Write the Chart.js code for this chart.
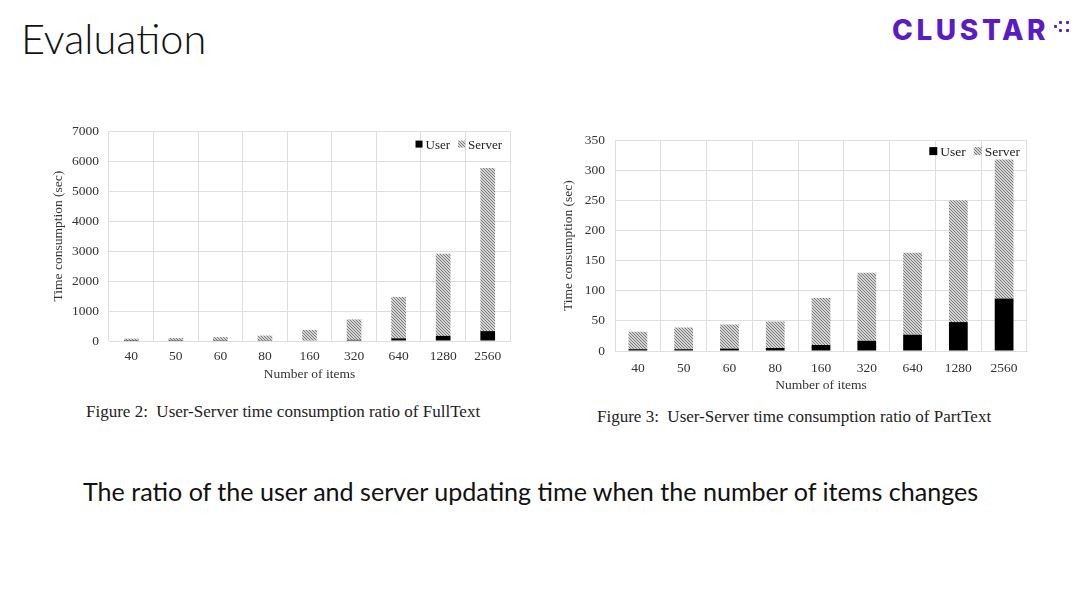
<!DOCTYPE html>
<html>
<head>
<meta charset="utf-8">
<script src="https://cdn.jsdelivr.net/npm/chart.js@4.4.1/dist/chart.umd.min.js"></script>
<style>
  html, body { margin: 0; padding: 0; background: #fff; }
  body { width: 1080px; height: 608px; position: relative; overflow: hidden; font-family: Lato, 'Noto Sans', sans-serif; }
  .title { position: absolute; left: 21px; top: 13px; font-size: 41.5px; font-weight: 300; color: #111; }
  .logo { position: absolute; left: 892px; top: 13px; font-family: Inter, sans-serif; font-weight: 800; font-size: 28px; letter-spacing: 3.6px; color: #5a1dc5; }
  .dots { position: absolute; left: 1052px; top: 20px; width: 22px; height: 16px; }
  .dots i { position: absolute; width: 3px; height: 3px; background: #5a1dc5; border-radius: 1px; }
  .wrap { position: absolute; }
  .caption { position: absolute; font-family: 'Liberation Serif', 'DejaVu Serif', serif; font-size: 17px; color: #222; white-space: nowrap; }
  .note { position: absolute; left: 83px; top: 476px; font-size: 25.1px; color: #111; white-space: nowrap; }
</style>
</head>
<body>
<div class="title">Evaluation</div>
<div class="logo">CLUSTAR</div>
<div class="dots"><i style="left:2px;top:5px"></i><i style="left:7px;top:1px"></i><i style="left:7px;top:9px"></i><i style="left:14px;top:1px"></i><i style="left:14px;top:9px"></i></div>

<div class="wrap" style="left:50px;top:113px;width:466px;height:270px"><canvas id="fullText"></canvas></div>
<div class="wrap" style="left:560px;top:122px;width:475px;height:272px"><canvas id="partText"></canvas></div>

<div class="caption" style="left:86px;top:402px">Figure 2:&nbsp; User-Server time consumption ratio of FullText</div>
<div class="caption" style="left:597px;top:407px">Figure 3:&nbsp; User-Server time consumption ratio of PartText</div>

<div class="note">The ratio of the user and server updating time when the number of items changes</div>

<script>
const items = ['40', '50', '60', '80', '160', '320', '640', '1280', '2560'];

// FullText (sec)
const fullUser = [5, 6, 8, 10, 20, 40, 90, 170, 330];
const fullTotal = [80, 100, 130, 180, 370, 720, 1470, 2910, 5770];
const fullServer = fullTotal.map((t, i) => t - fullUser[i]);

// PartText (sec)
const partUser = [3, 3, 4, 5, 10, 17, 27, 48, 87];
const partTotal = [32, 39, 44, 49, 88, 130, 163, 250, 318];
const partServer = partTotal.map((t, i) => t - partUser[i]);

const fullTicks = [0, 1000, 2000, 3000, 4000, 5000, 6000, 7000];
const partTicks = [0, 50, 100, 150, 200, 250, 300, 350];

const makeHatch = () => {
    const c = document.createElement('canvas');
    c.width = 3; c.height = 3;
    const g = c.getContext('2d');
    g.fillStyle = '#d4d4d4';
    g.fillRect(0, 0, 3, 3);
    g.fillStyle = '#7a7a7a';
    // diagonal dots: top-left to bottom-right
    g.fillRect(0, 0, 1, 1);
    g.fillRect(1, 1, 1, 1);
    g.fillRect(2, 2, 1, 1);
    return g.createPattern(c, 'repeat');
};
const hatch = makeHatch();

const serif = "'Liberation Serif', 'DejaVu Serif', serif";
const gridColor = '#dedede';

// legend drawn inside the plot, top-right
const cornerLegend = {
    id: 'cornerLegend',
    afterDraw(chart, args, o) {
        const { ctx, chartArea } = chart;
        const ds = chart.data.datasets;
        ctx.save();
        ctx.font = `${o.size}px ${serif}`;
        ctx.textBaseline = 'middle';
        const gap = 3, spacing = 8;
        const widths = ds.map(d => o.box + gap + ctx.measureText(d.label).width);
        const total = widths.reduce((a, b) => a + b, 0) + spacing * (ds.length - 1);
        let x = chartArea.right - o.inset - total;
        const y = chartArea.top + o.dy;
        ds.forEach((d, i) => {
            ctx.fillStyle = d.backgroundColor;
            ctx.fillRect(x, y - o.box / 2, o.box, o.box);
            ctx.fillStyle = '#222';
            ctx.fillText(d.label, x + o.box + gap, y + 1);
            x += widths[i] + spacing;
        });
        ctx.restore();
    }
};

const buildChart = (id, user, server, ticks, opts) => {
    new Chart(document.getElementById(id), {
        type: 'bar',
        data: {
            labels: items,
            datasets: [
                { label: 'User', data: user, backgroundColor: '#000', barPercentage: opts.bar, categoryPercentage: 1 },
                { label: 'Server', data: server, backgroundColor: hatch, barPercentage: opts.bar, categoryPercentage: 1 }
            ]
        },
        plugins: [cornerLegend],
        options: {
            responsive: true,
            maintainAspectRatio: false,
            animation: false,
            layout: { padding: { top: opts.top, right: opts.right, left: 0, bottom: 0 } },
            plugins: {
                legend: { display: false },
                tooltip: { enabled: false },
                cornerLegend: opts.legend
            },
            scales: {
                x: {
                    stacked: true,
                    grid: { color: gridColor, offset: true, drawTicks: false },
                    border: { color: gridColor },
                    ticks: { color: '#333', padding: opts.tickPad, font: { family: serif, size: 13.5 } },
                    title: { display: true, text: 'Number of items', color: '#333', padding: { top: 0, bottom: 0 }, font: { family: serif, size: 13.5 } },
                    afterFit: (s) => { s.height = opts.xh; }
                },
                y: {
                    stacked: true,
                    min: 0,
                    max: ticks[ticks.length - 1],
                    afterBuildTicks: (s) => { s.ticks = ticks.map(v => ({ value: v })); },
                    grid: { color: gridColor, drawTicks: false },
                    border: { display: false },
                    ticks: { color: '#333', padding: 10, font: { family: serif, size: 13.5 }, callback: (v) => String(v) },
                    title: { display: true, text: 'Time consumption (sec)', color: '#333', padding: 0, font: { family: serif, size: 13.5 } },
                    afterFit: (s) => { s.width = opts.yw; }
                }
            }
        }
    });
};

buildChart('fullText', fullUser, fullServer, fullTicks, {
    bar: 0.33, top: 6, right: 6, yw: 59, xh: 42, tickPad: 7,
    legend: { box: 7, size: 13, inset: 8, dy: 13 }
});
buildChart('partText', partUser, partServer, partTicks, {
    bar: 0.41, top: 6, right: 8, yw: 55, xh: 43, tickPad: 9,
    legend: { box: 8, size: 13.5, inset: 7, dy: 11 }
});
</script>
</body>
</html>
